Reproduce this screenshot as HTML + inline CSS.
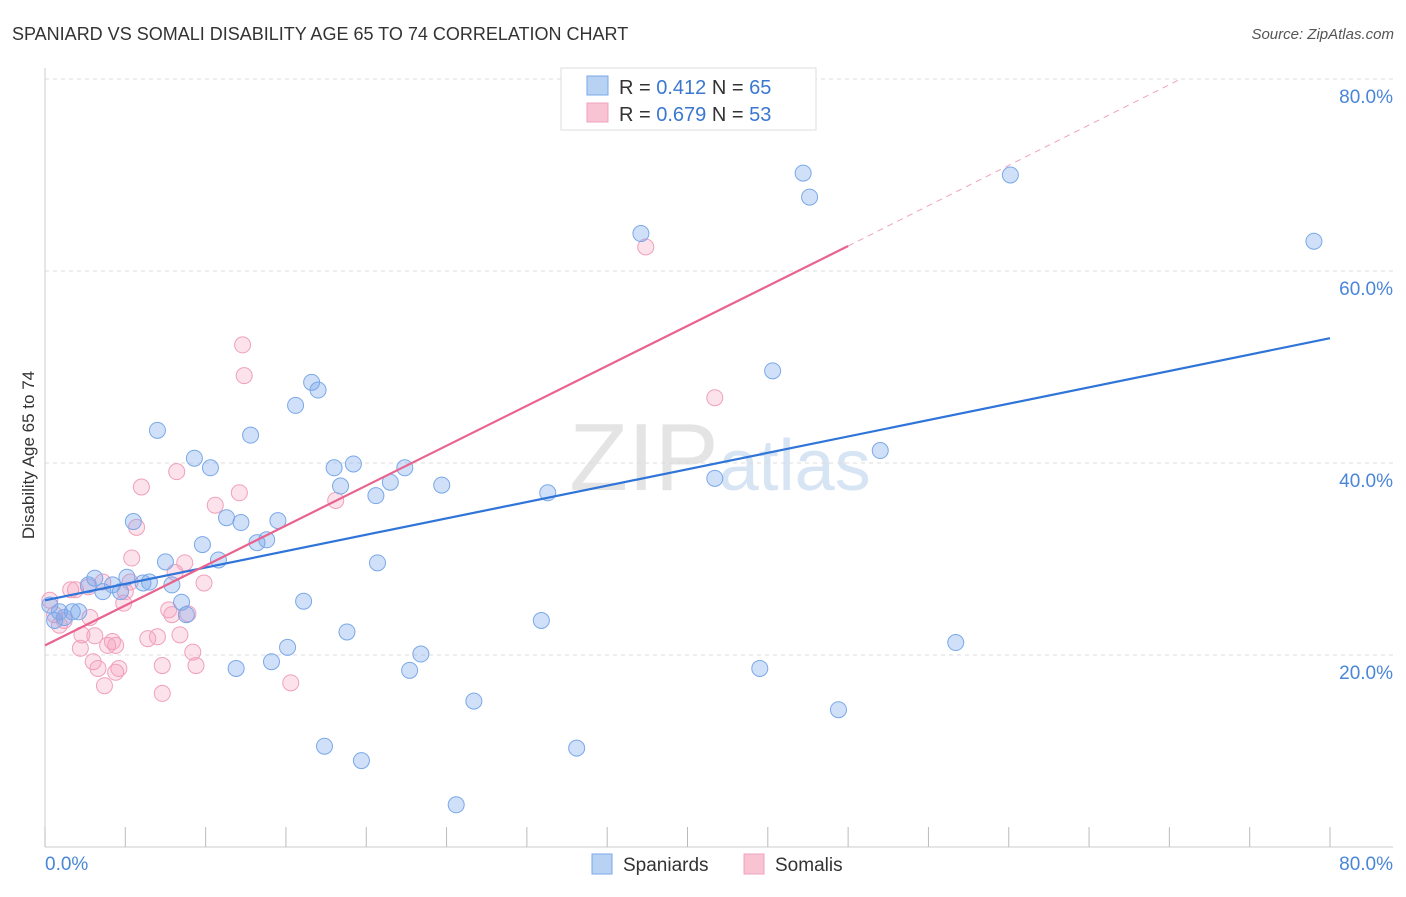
<!DOCTYPE html>
<html><head><meta charset="utf-8"><style>
body{margin:0;background:#fff;font-family:"Liberation Sans",sans-serif}
svg text{font-family:"Liberation Sans",sans-serif}
</style></head><body>
<svg id="c" width="1406" height="892" xmlns="http://www.w3.org/2000/svg">
<text x="12" y="40" font-size="18" fill="#333">SPANIARD VS SOMALI DISABILITY AGE 65 TO 74 CORRELATION CHART</text>
<text x="1394" y="39" font-size="15" fill="#555" font-style="italic" text-anchor="end">Source: ZipAtlas.com</text>
<text x="720" y="490" font-size="96" fill="#e4e4e4" text-anchor="middle" font-family="Liberation Serif">ZIP<tspan fill="#d6e4f4" font-family="Liberation Sans" font-size="72">atlas</tspan></text>
<text transform="translate(34,455) rotate(-90)" font-size="17" fill="#333" text-anchor="middle">Disability Age 65 to 74</text>
<g id="grid"></g><g id="axes"></g><g id="marks"></g>
<g>
<rect x="561" y="68" width="255" height="62" fill="#fff" stroke="#ddd"/>
<rect x="587" y="76" width="21" height="19" fill="#b8d2f4" stroke="#7aa8e8"/>
<rect x="587" y="103" width="21" height="19" fill="#f8c4d4" stroke="#f0a0bc"/>
<text x="619" y="94" font-size="20" fill="#333">R = <tspan fill="#3a78d0">0.412</tspan>   N = <tspan fill="#3a78d0">65</tspan></text>
<text x="619" y="121" font-size="20" fill="#333">R = <tspan fill="#3a78d0">0.679</tspan>   N = <tspan fill="#3a78d0">53</tspan></text>
</g>
<g>
<rect x="592" y="854" width="20" height="20" fill="#b8d2f4" stroke="#7aa8e8"/>
<text x="623" y="871" font-size="19" fill="#333">Spaniards</text>
<rect x="744" y="854" width="20" height="20" fill="#f8c4d4" stroke="#f0a0bc"/>
<text x="775" y="871" font-size="19" fill="#333">Somalis</text>
</g>
</svg>
<script>
const xTicks=[0,10,20,30,40,50,60,70,80];
const yTicks=[20,40,60,80];
const blueX=[0.3,0.6,0.9,1.2,1.7,2.1,2.7,3.1,3.6,4.2,4.7,5.1,5.5,6.1,6.5,7.0,7.5,7.9,8.5,8.8,9.3,9.8,10.3,10.8,11.3,11.9,12.2,12.8,13.2,13.8,14.1,14.5,15.1,15.6,16.1,16.6,17.0,17.4,18.0,18.4,18.8,19.2,19.7,20.6,20.7,21.5,22.4,22.7,23.4,24.7,25.6,26.7,30.9,31.3,33.1,37.1,41.7,44.5,45.3,47.2,47.6,49.4,52.0,56.7,60.1,79.0];
const blueY=[25.2,23.6,24.5,23.9,24.5,24.5,27.3,28.0,26.6,27.3,26.6,28.1,33.9,27.5,27.6,43.4,29.7,27.3,25.5,24.2,40.5,31.5,39.5,29.9,34.3,18.6,33.8,42.9,31.7,32.0,19.3,34.0,20.8,46.0,25.6,48.4,47.6,10.5,39.5,37.6,22.4,39.9,9.0,36.6,29.6,38.0,39.5,18.4,20.1,37.7,4.4,15.2,23.6,36.9,10.3,63.9,38.4,18.6,49.6,70.2,67.7,14.3,41.3,21.3,70.0,63.1];
const pinkX=[0.3,0.6,0.9,1.2,1.6,1.9,2.3,2.2,2.8,2.7,3.0,3.1,3.3,3.6,3.7,3.9,4.2,4.4,4.4,4.6,4.9,5.0,5.3,5.4,5.7,6.0,6.4,7.0,7.3,7.3,7.7,7.9,8.1,8.2,8.4,8.7,8.9,9.2,9.4,9.9,10.6,12.1,12.3,12.4,15.3,18.1,37.4,41.7];
const pinkY=[25.7,24.2,23.1,23.6,26.8,26.8,22.1,20.7,23.9,27.1,19.3,22.0,18.6,27.6,16.8,21.0,21.4,21.0,18.2,18.6,25.4,26.6,27.6,30.1,33.3,37.5,21.7,21.9,18.9,16.0,24.7,24.2,28.6,39.1,22.1,29.6,24.3,20.3,18.9,27.5,35.6,36.9,52.3,49.1,17.1,36.1,62.5,46.8];
const blueLine=[[0,25.7],[80,53]];
const pinkLine=[[0,21],[50,62.6]];
const pinkDash=[[50,62.6],[70.7,80]];
const X=v=>45+v*16.0625, Y=v=>847-v*9.6;
const NS="http://www.w3.org/2000/svg";
function mk(p,t,a){const e=document.createElementNS(NS,t);for(const k in a)e.setAttribute(k,a[k]);p.appendChild(e);return e;}
const grid=document.getElementById('grid'),axes=document.getElementById('axes'),marks=document.getElementById('marks');
yTicks.forEach(t=>{
 const l=mk(grid,'line',{x1:45,x2:1393,y1:Y(t),y2:Y(t),stroke:'#ddd','stroke-dasharray':'4,4'});
 
 
 const tx=mk(axes,'text',{x:1393,y:Y(t)+24,'font-size':19,fill:'#4a86d8','text-anchor':'end'});
 tx.textContent=t.toFixed(1)+'%';
 
 
});
const xa=mk(axes,'line',{x1:45,x2:1393,y1:847,y2:847,stroke:'#ccc'});


const ya=mk(axes,'line',{x1:45,x2:45,y1:68,y2:847,stroke:'#ccc'});


xTicks.forEach(t=>{
 const l=mk(axes,'line',{x1:X(t),x2:X(t),y1:827,y2:847,stroke:'#bbb'});
 
 
});
for(let i=0;i<8;i++){const t=(i+0.5)*10;const l=mk(axes,'line',{x1:X(t),x2:X(t),y1:827,y2:847,stroke:'#bbb'});
 
 }
[[0,'start',45],[80,'end',1393]].forEach(([v,a,x])=>{
 const tx=mk(axes,'text',{x:x,y:870,'font-size':19,fill:'#4a86d8','text-anchor':a});
 tx.textContent=v.toFixed(1)+'%';
 
 
});
pinkX.forEach((v,i)=>{
 const c=mk(marks,'circle',{cx:X(v),cy:Y(pinkY[i]),r:8,fill:'rgba(244,160,190,0.3)',stroke:'#f0a0bc','stroke-width':1});
 
 
});
blueX.forEach((v,i)=>{
 const c=mk(marks,'circle',{cx:X(v),cy:Y(blueY[i]),r:8,fill:'rgba(120,165,235,0.35)',stroke:'#7aa8e8','stroke-width':1});
 
 
});
const bl=mk(marks,'line',{x1:X(blueLine[0][0]),y1:Y(blueLine[0][1]),x2:X(blueLine[1][0]),y2:Y(blueLine[1][1]),stroke:'#2f74d8','stroke-width':2.2});


const pl=mk(marks,'line',{x1:X(pinkLine[0][0]),y1:Y(pinkLine[0][1]),x2:X(pinkLine[1][0]),y2:Y(pinkLine[1][1]),stroke:'#e8648e','stroke-width':2.2});


const pd=mk(marks,'line',{x1:X(pinkDash[0][0]),y1:Y(pinkDash[0][1]),x2:X(pinkDash[1][0]),y2:Y(pinkDash[1][1]),stroke:'#f0a0bc','stroke-width':1,'stroke-dasharray':'6,5'});


</script>
</body></html>
